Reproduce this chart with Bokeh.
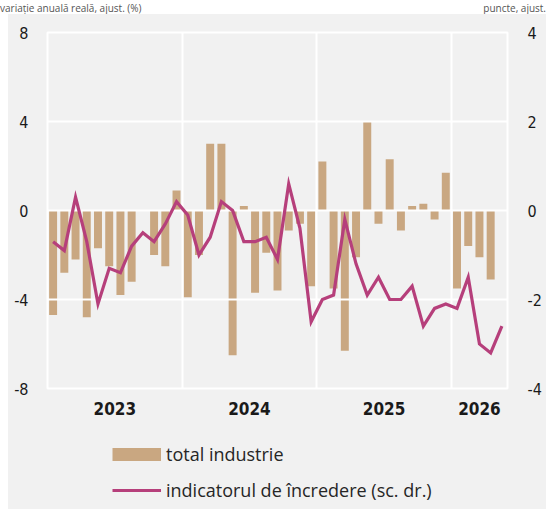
from bokeh.plotting import figure
from bokeh.models import Range1d, LinearAxis, FixedTicker, Legend, LegendItem, Div
from bokeh.layouts import column
from bokeh.embed import file_html
from bokeh.resources import INLINE

# Monthly data, Jan 2023 .. May 2026
years = ["2023", "2024", "2025", "2026"]
year_of_month = [2023] * 12 + [2024] * 12 + [2025] * 12 + [2026] * 5
months = list(range(len(year_of_month)))

industry = [-4.7, -2.8, -2.2, -4.8, -1.7, -2.5, -3.8, -3.2, 0.0, -2.0, -2.5, 0.9,
            -3.9, -2.0, 3.0, 3.0, -6.5, 0.2, -3.7, -1.9, -3.6, -0.9, -0.6, -3.4,
            2.2, -3.5, -6.3, -2.1, 4.0, -0.6, 2.3, -0.9, 0.2, 0.3, -0.4, 1.7,
            -3.5, -1.6, -2.1, -3.1]

confidence = [-0.7, -0.9, 0.3, -0.7, -2.1, -1.3, -1.4, -0.8, -0.5, -0.7, -0.3, 0.2,
              -0.1, -1.0, -0.6, 0.2, 0.0, -0.7, -0.7, -0.6, -1.1, 0.6, -0.4, -2.5,
              -2.0, -1.9, -0.2, -1.2, -1.9, -1.5, -2.0, -2.0, -1.7, -2.6, -2.2, -2.1,
              -2.2, -1.5, -3.0, -3.2, -2.6]

left_ticks = [-8, -4, 0, 4, 8]
right_ticks = [-4, -2, 0, 2, 4]
left_title = "variație anuală reală, ajust. (%)"
right_title = "puncte, ajust."
series_names = ["total industrie", "indicatorul de încredere (sc. dr.)"]

BAR = "#c9a781"
LINE = "#b63f7b"
BG = "#f1f1f1"
TICK_FONT = "'DejaVu Sans Condensed', 'Liberation Sans Narrow', Roboto, sans-serif"
TEXT_FONT = "Open Sans"

header = Div(text=(f'<div style="display:flex;justify-content:space-between;width:546px;'
                   f'font-family:\'Open Sans\',sans-serif;font-size:10px;line-height:13px;color:#555;">'
                   f'<span>{left_title}</span><span>{right_title}</span></div>'),
             width=546, height=14, margin=0)

p = figure(width=538, height=416, output_backend="svg", toolbar_location=None,
           x_range=Range1d(-0.5, len(months) - 0.5), y_range=Range1d(-8, 8),
           min_border_left=39, min_border_right=39, min_border_top=18, min_border_bottom=42,
           margin=0)
p.extra_y_ranges = {"right": Range1d(-4, 4)}

p.background_fill_color = BG
p.border_fill_color = BG
p.outline_line_color = "white"
p.outline_line_width = 2

bars = p.vbar(x=months[:len(industry)], top=industry, bottom=0, width=0.71,
              fill_color=BAR, line_color=None)
line = p.line(x=months, y=confidence, y_range_name="right", line_color=LINE,
              line_width=3.2, line_join="miter")
line.level = "annotation"

# year boundaries and centres
bounds = [m - 0.5 for m in months[1:] if year_of_month[m] != year_of_month[m - 1]]
centres = []
for y in years:
    ms = [m for m in months if year_of_month[m] == int(y)]
    centres.append((ms[0] + ms[-1]) / 2)

p.xaxis.ticker = FixedTicker(ticks=centres)
p.xaxis.major_label_overrides = {c: y for c, y in zip(centres, years)}
p.xgrid.ticker = FixedTicker(ticks=bounds)
p.yaxis.ticker = FixedTicker(ticks=left_ticks)
p.yaxis.major_label_overrides = {t: str(t) for t in left_ticks}
p.ygrid.ticker = FixedTicker(ticks=[t for t in left_ticks if abs(t) < 8])

for g in (p.xgrid, p.ygrid):
    g.grid_line_color = "white"
    g.grid_line_width = 2
    g.level = "guide"

raxis = LinearAxis(y_range_name="right", ticker=FixedTicker(ticks=right_ticks),
                   major_label_overrides={t: str(t) for t in right_ticks})
p.add_layout(raxis, "right")

for ax in (p.xaxis[0], p.yaxis[0], raxis):
    ax.axis_line_color = None
    ax.major_tick_line_color = None
    ax.minor_tick_line_color = None
    ax.major_tick_out = 0
    ax.major_tick_in = 0
    ax.minor_tick_out = 0
    ax.major_label_text_font = TICK_FONT
    ax.major_label_text_font_size = "16px"
    ax.major_label_text_color = "#1a1a1a"

p.yaxis[0].major_label_standoff = 19
raxis.major_label_standoff = 20
p.xaxis[0].major_label_standoff = 13
p.xaxis[0].major_label_text_font_style = "bold"
p.xaxis[0].major_label_text_font_size = "17px"

# legend in its own strip below the plot (its frame is aligned with the plot's frame)
lg = figure(width=538, height=80, output_backend="svg", toolbar_location=None,
            x_range=Range1d(-0.5, len(months) - 0.5), y_range=Range1d(100, 101),
            min_border_left=39, min_border_right=39, min_border_top=0, min_border_bottom=0,
            margin=0, x_axis_type=None, y_axis_type=None)
lg.background_fill_color = BG
lg.border_fill_color = BG
lg.outline_line_color = None
lg.grid.visible = False
# series drawn outside the visible range: they only provide the legend swatches
bar_swatch = lg.line(x=months[:len(industry)], y=industry, line_color=BAR, line_width=13)
line_swatch = lg.line(x=months, y=confidence, line_color=LINE, line_width=3.2)

legend = Legend(items=[LegendItem(label=series_names[0], renderers=[bar_swatch]),
                       LegendItem(label=series_names[1], renderers=[line_swatch])],
                location=(65, 8), orientation="vertical",
                glyph_width=49, glyph_height=22, label_height=22, label_standoff=5,
                spacing=12, padding=0, margin=0,
                border_line_color=None, background_fill_alpha=0,
                label_text_font=TEXT_FONT, label_text_font_size="18px",
                label_text_color="#262626")
lg.add_layout(legend, "center")

inner = column(p, lg, spacing=0, margin=(0, 0, 0, 8), styles={"background-color": BG})
open("out.html", "w").write(file_html(column(header, inner, spacing=0), INLINE))
